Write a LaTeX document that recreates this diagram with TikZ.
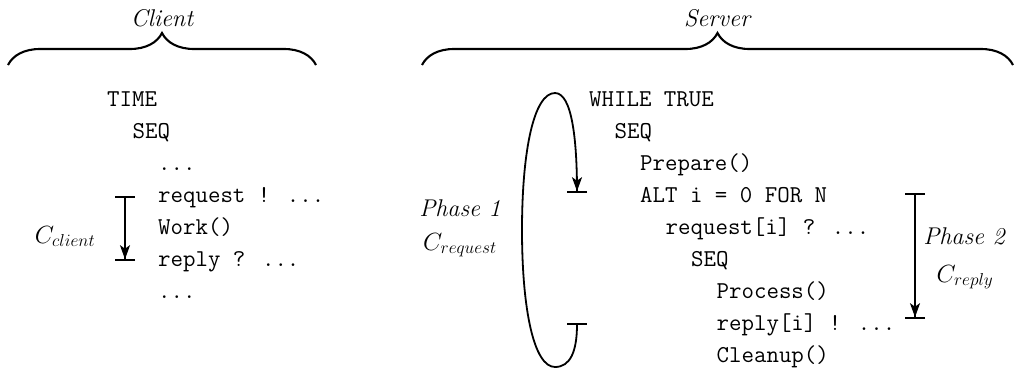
\documentclass[tikz,border=0pt]{standalone}
\usepackage{fontspec}
\usetikzlibrary{arrows.meta,decorations.pathreplacing}
\newcommand\mycodefont{\fontsize{24.2}{32}\selectfont\ttfamily}
\newcommand\mylabfont{\fontsize{24.2}{32}\selectfont}
\begin{document}
\begin{tikzpicture}[x=1pt,y=-1pt,
  code/.style={anchor=base west,inner sep=0pt,font=\mycodefont},
  lab/.style={anchor=base,inner sep=0pt,font=\mylabfont},
  bracestyle/.style={decorate,decoration={brace,amplitude=32pt},line width=2.1pt},
  phasearrow/.style={line width=1.8pt,
     {Bar[width=20pt,line width=1.8pt]}-{Stealth[length=14pt,width=10pt,inset=3.5pt]Bar[width=20pt,line width=1.8pt]}}]
\useasboundingbox (0,0) rectangle (1014,372);
% braces
\coordinate (cbl) at (8,65);
\coordinate (cbr) at (316,65);
\coordinate (sbl) at (422,65);
\coordinate (sbr) at (1013,65);
\draw[bracestyle] (cbl) -- (cbr);
\draw[bracestyle] (sbl) -- (sbr);
\node[lab] (client) at (162,26) {\itshape Client};
\node[lab] (server) at (717,26) {\itshape Server};
% client code
\node[code] (c1) at (107,106) {TIME};
\node[code] (c2) at (132.5,138) {SEQ};
\node[code] (c3) at (158,170) {...};
\node[code] (c4) at (158,202) {request ! ...};
\node[code] (c5) at (158,234) {Work()};
\node[code] (c6) at (158,266) {reply ? ...};
\node[code] (c7) at (158,298) {...};
% server code
\node[code] (s1) at (589,106) {WHILE TRUE};
\node[code] (s2) at (614.5,138) {SEQ};
\node[code] (s3) at (640,170) {Prepare()};
\node[code] (s4) at (640,202) {ALT i = 0 FOR N};
\node[code] (s5) at (665.5,234) {request[i] ? ...};
\node[code] (s6) at (691,266) {SEQ};
\node[code] (s7) at (716.5,298) {Process()};
\node[code] (s8) at (716.5,330) {reply[i] ! ...};
\node[code] (s9) at (716.5,362) {Cleanup()};
% client arrow
\coordinate (ca1) at (125,196);
\coordinate (ca2) at (125,261);
\draw[phasearrow] (ca1) -- (ca2);
\node[lab] (cclient) at (65,243) {$C_{client}$};
% phase 1 loop
\coordinate (lb) at (577,323);
\coordinate (lt) at (577,193);
\draw[phasearrow] (lb) .. controls (577,352) and (570,367) .. (555,367)
  .. controls (534,367) and (522,310) .. (522,230)
  .. controls (522,150) and (534,93) .. (555,93)
  .. controls (572,93) and (577,140) .. (lt);
\node[lab] (ph1) at (460,216) {\itshape Phase 1};
\node[lab] (creq) at (460,250) {$C_{request}$};
% phase 2 arrow
\coordinate (pa1) at (915,193);
\coordinate (pa2) at (915,319);
\draw[phasearrow] (pa1) -- (pa2);
\node[lab] (ph2) at (964,244) {\itshape Phase 2};
\node[lab] (crep) at (965,282) {$C_{reply}$};
\end{tikzpicture}
\end{document}
